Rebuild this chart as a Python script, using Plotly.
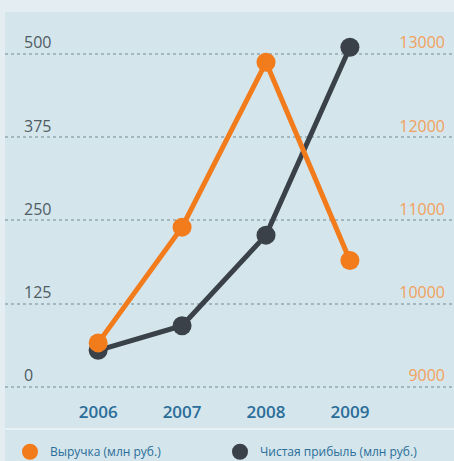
import plotly.graph_objects as go

years = [2006, 2007, 2008, 2009]
revenue = [9530, 10920, 12900, 10520]          # Выручка (млн руб.) - right axis
net_profit = [55, 92, 228, 510]                # Чистая прибыль (млн руб.) - left axis
left_ticks = [0, 125, 250, 375, 500]
right_ticks = [9000, 10000, 11000, 12000, 13000]
rev_name = "Выручка (млн руб.)"
prof_name = "Чистая прибыль (млн руб.)"

ORANGE = "#f27b1c"
DARK = "#3a4148"
PANEL = "#d4e5ec"
OUTER = "#e4eef2"
GRID = "#a3b7c0"
BLUE = "#2a6d98"

fig = go.Figure()

fig.add_trace(go.Scatter(
    x=years, y=revenue, yaxis="y2", mode="lines+markers",
    line=dict(color=ORANGE, width=5), marker=dict(color=ORANGE, size=19),
    showlegend=False, name=rev_name))
fig.add_trace(go.Scatter(
    x=years, y=net_profit, yaxis="y", mode="lines+markers",
    line=dict(color=DARK, width=5), marker=dict(color=DARK, size=19),
    showlegend=False, name=prof_name))

# legend-only entries (circles)
fig.add_trace(go.Scatter(x=[None], y=[None], mode="markers", name=rev_name,
                         marker=dict(color=ORANGE, size=16)))
fig.add_trace(go.Scatter(x=[None], y=[None], mode="markers", name=prof_name,
                         marker=dict(color=DARK, size=16)))

fig.update_layout(
    width=454, height=461,
    margin=dict(l=5, r=0, t=12, b=66),
    paper_bgcolor=OUTER,
    plot_bgcolor=PANEL,
    font=dict(family="Open Sans", color="#4d5a61"),
    xaxis=dict(
        range=[2004.89, 2010.24], tickvals=years, ticktext=[str(y) for y in years],
        showgrid=False, zeroline=False, showline=False, ticks="",
        tickfont=dict(size=17, color=BLUE, family="Open Sans", weight=600),
        ticklabelstandoff=5,
    ),
    yaxis=dict(
        range=[-12, 563], tickvals=left_ticks, ticktext=[str(v) for v in left_ticks],
        showgrid=True, gridcolor=GRID, griddash="dot", gridwidth=1.5,
        zeroline=False, showline=False, ticks="",
        ticklabelposition="inside top", ticklabelstandoff=16,
        tickfont=dict(size=16, color="#4f5c63"),
    ),
    yaxis2=dict(
        range=[8904, 13504], tickvals=right_ticks, ticktext=[str(v) for v in right_ticks],
        overlaying="y", side="right",
        showgrid=False, zeroline=False, showline=False, ticks="",
        ticklabelposition="inside top", ticklabelstandoff=6,
        tickfont=dict(size=16, color="#f2a15c"),
    ),
    legend=dict(
        orientation="h", xref="container", yref="container",
        x=0.022, y=0.02, xanchor="left", yanchor="middle",
        entrywidth=165, entrywidthmode="pixels",
        font=dict(size=12, color=BLUE, family="Open Sans"),
        bgcolor="rgba(0,0,0,0)",
    ),
    shapes=[
        dict(type="rect", xref="paper", yref="paper", x0=0, x1=1, y0=-0.2, y1=1,
             fillcolor=PANEL, line=dict(width=0), layer="below"),
        dict(type="line", xref="paper", yref="paper", x0=0, x1=1, y0=-0.089, y1=-0.089,
             line=dict(color="#edf4f7", width=1.5)),
    ],
)

fig.write_html(
    "out.html",
    config={"displayModeBar": False},
    post_script="document.body.style.margin='0px';document.body.style.overflow='hidden';",
)
